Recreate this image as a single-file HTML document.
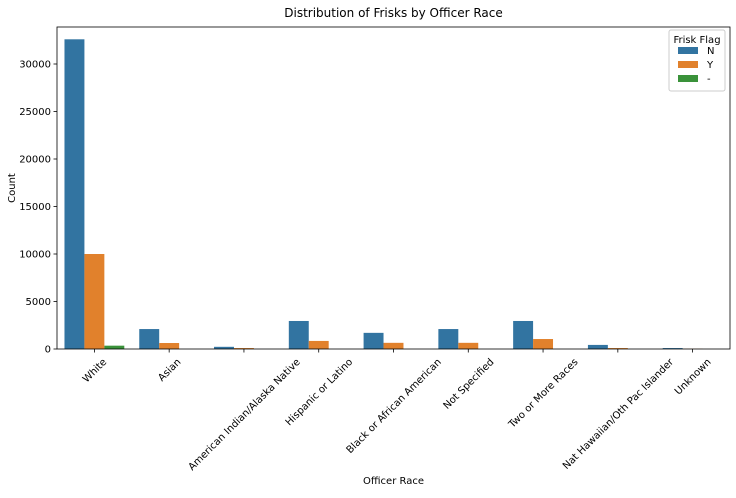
<!DOCTYPE html>
<html><head><meta charset="utf-8"><style>
body{margin:0;background:#fff;font-family:"Liberation Sans","DejaVu Sans",sans-serif;}
svg text{font-family:"DejaVu Sans","Liberation Sans",sans-serif;fill:#000}
</style></head><body>
<svg id="c" width="736" height="493" xmlns="http://www.w3.org/2000/svg"></svg>
<script>
const categories=["White","Asian","American Indian/Alaska Native","Hispanic or Latino","Black or African American","Not Specified","Two or More Races","Nat Hawaiian/Oth Pac Islander","Unknown"];
const seriesN=[32600,2100,230,2950,1700,2100,2950,430,100];
const seriesY=[10000,630,100,850,650,650,1050,100,20];
const seriesDash=[350,0,0,0,0,0,0,0,0];
const yTicks=[0,5000,10000,15000,20000,25000,30000];
const seriesNames=["N","Y","-"];
const colors=["#3274a1","#e1812c","#3a923a"];
const L=57,R=730,T=27,B=349;
const NS="http://www.w3.org/2000/svg";
const svg=document.getElementById('c');
function el(t,a,txt){const e=document.createElementNS(NS,t);for(const k in a)e.setAttribute(k,a[k]);if(txt!==undefined)e.textContent=txt;svg.appendChild(e);return e;}
function ys(v){return B-v*0.0095;}
const bw=(R-L)/categories.length;
const x=i=>L+bw*i;
const all=[seriesN,seriesY,seriesDash];
const hw=bw*0.8/3;
all.forEach((s,si)=>{s.forEach((v,i)=>{
 const r=el('rect',{x:x(i)+bw*0.1+si*hw,y:ys(v),width:hw,height:B-ys(v),fill:colors[si]});
 
 
});});
const f=el('rect',{x:L,y:T,width:R-L,height:B-T,fill:'none',stroke:'#000','stroke-width':0.8});

yTicks.forEach(v=>{
 const l=el('line',{x1:L-3.5,x2:L,y1:ys(v),y2:ys(v),stroke:'#000','stroke-width':0.8});
 
 const t=el('text',{x:L-6,y:ys(v)+3.5,'text-anchor':'end','font-size':10},v);
 
});
categories.forEach((c,i)=>{
 const cx=x(i)+bw/2;
 const l=el('line',{x1:cx,x2:cx,y1:B,y2:B+3.5,stroke:'#000','stroke-width':0.8});
 
 const t=el('text',{x:0,y:0,'text-anchor':'middle','font-size':10},c);
 
 const w=t.getComputedTextLength();
 const d=w*0.7071/2;
 const cy=B+7+d+4;
 t.setAttribute('transform',`translate(${cx},${cy}) rotate(-45) translate(0,3.5)`);
});
let t=el('text',{x:(L+R)/2,y:17,'text-anchor':'middle','font-size':12},'Distribution of Frisks by Officer Race');

t=el('text',{x:(L+R)/2,y:484,'text-anchor':'middle','font-size':10},'Officer Race');

t=el('text',{x:15,y:(T+B)/2,'text-anchor':'middle','font-size':10,transform:`rotate(-90 15 ${(T+B)/2})`},'Count');

const lg=el('rect',{x:669,y:30,width:56,height:61,fill:'#fff',stroke:'#ccc',rx:2});

t=el('text',{x:697,y:43,'text-anchor':'middle','font-size':10},'Frisk Flag');

seriesNames.forEach((n,i)=>{
 const yy=51+i*14;
 const r=el('rect',{x:678,y:yy-4,width:20,height:7,fill:colors[i]});
 
 const tx=el('text',{x:707,y:yy+3,'font-size':10},n);
 
});
</script>
</body></html>
